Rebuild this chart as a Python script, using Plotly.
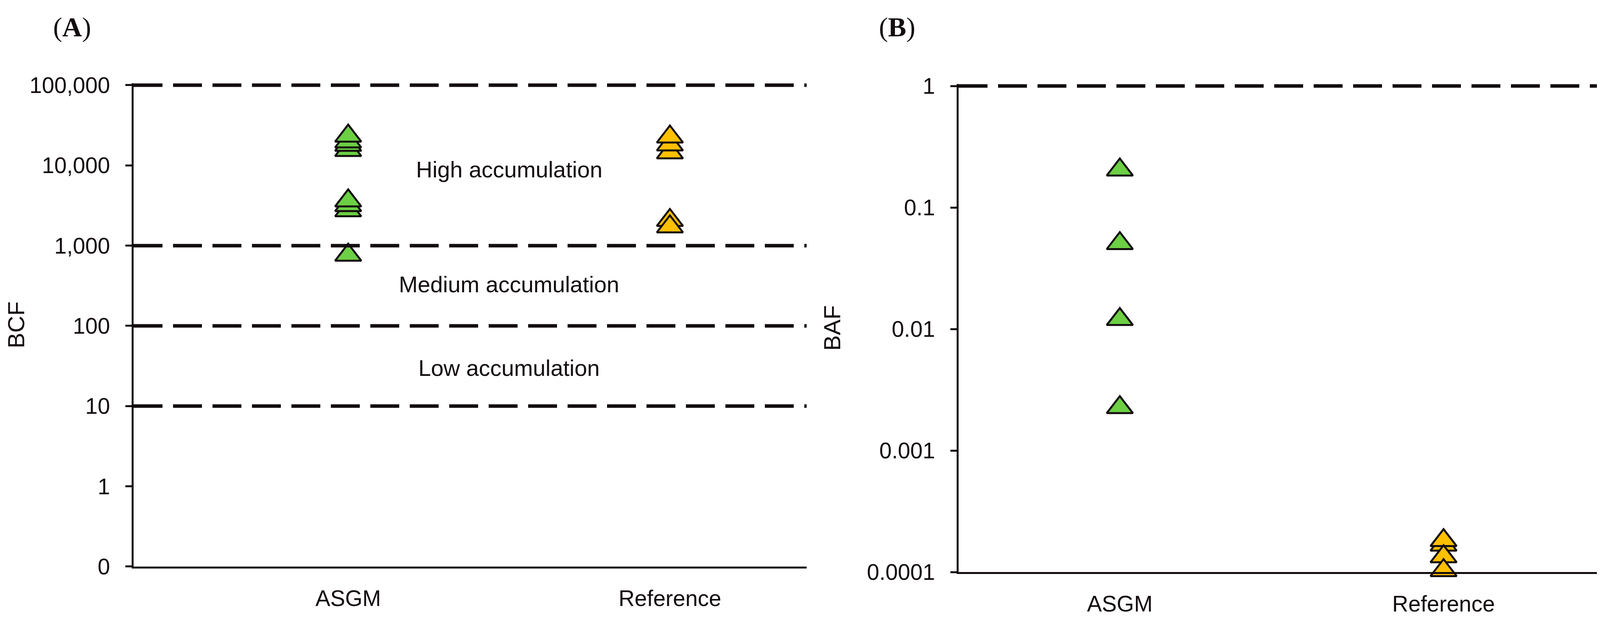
import numpy as np
import plotly.graph_objects as go

# ---------------- data ----------------
categories = ["ASGM", "Reference"]

bcf_asgm = [764, 2730, 3170, 3630, 15400, 17900, 19700, 23300]
bcf_reference = [14400, 18100, 22700, 2070, 1720]

baf_asgm = [0.00226, 0.0120, 0.0506, 0.204]
baf_reference = [0.000167, 0.000182, 0.000134, 0.000103]

bcf_tickvals = [0.1, 1, 10, 100, 1000, 10000, 100000]
bcf_ticktext = ["0", "1", "10", "100", "1,000", "10,000", "100,000"]
baf_tickvals = [0.0001, 0.001, 0.01, 0.1, 1]
baf_ticktext = ["0.0001", "0.001", "0.01", "0.1", "1"]

bcf_thresholds = [10, 100, 1000, 100000]
baf_thresholds = [1]

zone_labels = ["High accumulation", "Medium accumulation", "Low accumulation"]
zone_label_y = [8900, 330, 30]

# ---------------- style ----------------
W, H = 4166, 1597
GREEN = "#6CCF44"
GOLD = "#FFC000"
INK = "#130C0E"
SANS = "Liberation Sans, Arial, sans-serif"
SERIF = "Liberation Serif, Times New Roman, serif"
TICK_FS = 57

def px_x(p):
    return p / W

def px_y(p):
    return 1 - p / H

# small headroom so the top dashed line is not clipped by the plot area
A_DEC = (1442 - 210) / 6.0
B_DEC = (1456 - 212) / 4.0
A_PAD = 0.025
B_PAD = 0.017

fig = go.Figure()

marker_common = dict(symbol="triangle-up", size=58, line=dict(color=INK, width=5))

fig.add_trace(go.Scatter(x=[categories[0]] * len(bcf_asgm), y=bcf_asgm, mode="markers",
                         marker=dict(color=GREEN, **marker_common), cliponaxis=False,
                         xaxis="x", yaxis="y", showlegend=False))
fig.add_trace(go.Scatter(x=[categories[1]] * len(bcf_reference), y=bcf_reference, mode="markers",
                         marker=dict(color=GOLD, **marker_common), cliponaxis=False,
                         xaxis="x", yaxis="y", showlegend=False))
fig.add_trace(go.Scatter(x=[categories[0]] * len(baf_asgm), y=baf_asgm, mode="markers",
                         marker=dict(color=GREEN, **marker_common), cliponaxis=False,
                         xaxis="x2", yaxis="y2", showlegend=False))
fig.add_trace(go.Scatter(x=[categories[1]] * len(baf_reference), y=baf_reference, mode="markers",
                         marker=dict(color=GOLD, **marker_common), cliponaxis=False,
                         xaxis="x2", yaxis="y2", showlegend=False))

xa_common = dict(type="category", categoryorder="array", categoryarray=categories,
                 showline=True, linewidth=5, linecolor=INK, ticks="", showgrid=False,
                 zeroline=False, automargin=False,
                 tickfont=dict(family=SANS, size=TICK_FS, color=INK), ticklabelstandoff=28)
ya_common = dict(type="log", showline=True, linewidth=5, linecolor=INK, ticks="outside",
                 ticklen=16, tickwidth=5, tickcolor=INK, showgrid=False, zeroline=False,
                 automargin=False, tickfont=dict(family=SANS, size=TICK_FS, color=INK),
                 ticklabelstandoff=28)

fig.update_layout(
    width=W, height=H,
    margin=dict(l=0, r=0, t=0, b=0),
    paper_bgcolor="white", plot_bgcolor="white",
    xaxis=dict(domain=[px_x(334), px_x(2057)], anchor="y", range=[-0.667, 1.425], **xa_common),
    yaxis=dict(domain=[px_y(1442), px_y(210 - A_PAD * A_DEC)], anchor="x", range=[-1, 5 + A_PAD],
               tickvals=bcf_tickvals, ticktext=bcf_ticktext,
               title=dict(text="BCF", font=dict(family=SANS, size=60, color=INK), standoff=18),
               **ya_common),
    xaxis2=dict(domain=[px_x(2446), px_x(4150)], anchor="y2", range=[-0.498, 1.558], **xa_common),
    yaxis2=dict(domain=[px_y(1456), px_y(212 - B_PAD * B_DEC)], anchor="x2", range=[-4, 0 + B_PAD],
                tickvals=baf_tickvals, ticktext=baf_ticktext,
                title=dict(text="BAF", font=dict(family=SANS, size=60, color=INK), standoff=50),
                **ya_common),
)

shapes = []
for v in bcf_thresholds:
    shapes.append(dict(type="line", xref="x domain", x0=0, x1=1, yref="y", y0=v, y1=v,
                       line=dict(color=INK, width=9, dash="74px,27px"), layer="above"))
for v in baf_thresholds:
    shapes.append(dict(type="line", xref="x2 domain", x0=0, x1=1, yref="y2", y0=v, y1=v,
                       line=dict(color=INK, width=9, dash="74px,27px"), layer="above"))
fig.update_layout(shapes=shapes)

annotations = []
for txt, yv in zip(zone_labels, zone_label_y):
    annotations.append(dict(text=txt, x=0.5, y=np.log10(yv), xref="x", yref="y",
                            showarrow=False, font=dict(family=SANS, size=58, color=INK)))
annotations.append(dict(text="(<b>A</b>)", x=px_x(126), y=px_y(62), xref="paper", yref="paper",
                        xanchor="left", yanchor="middle", showarrow=False,
                        font=dict(family=SERIF, size=70, color=INK)))
annotations.append(dict(text="(<b>B</b>)", x=px_x(2240), y=px_y(62), xref="paper", yref="paper",
                        xanchor="left", yanchor="middle", showarrow=False,
                        font=dict(family=SERIF, size=70, color=INK)))
fig.update_layout(annotations=annotations)

fig.write_html("out.html")
